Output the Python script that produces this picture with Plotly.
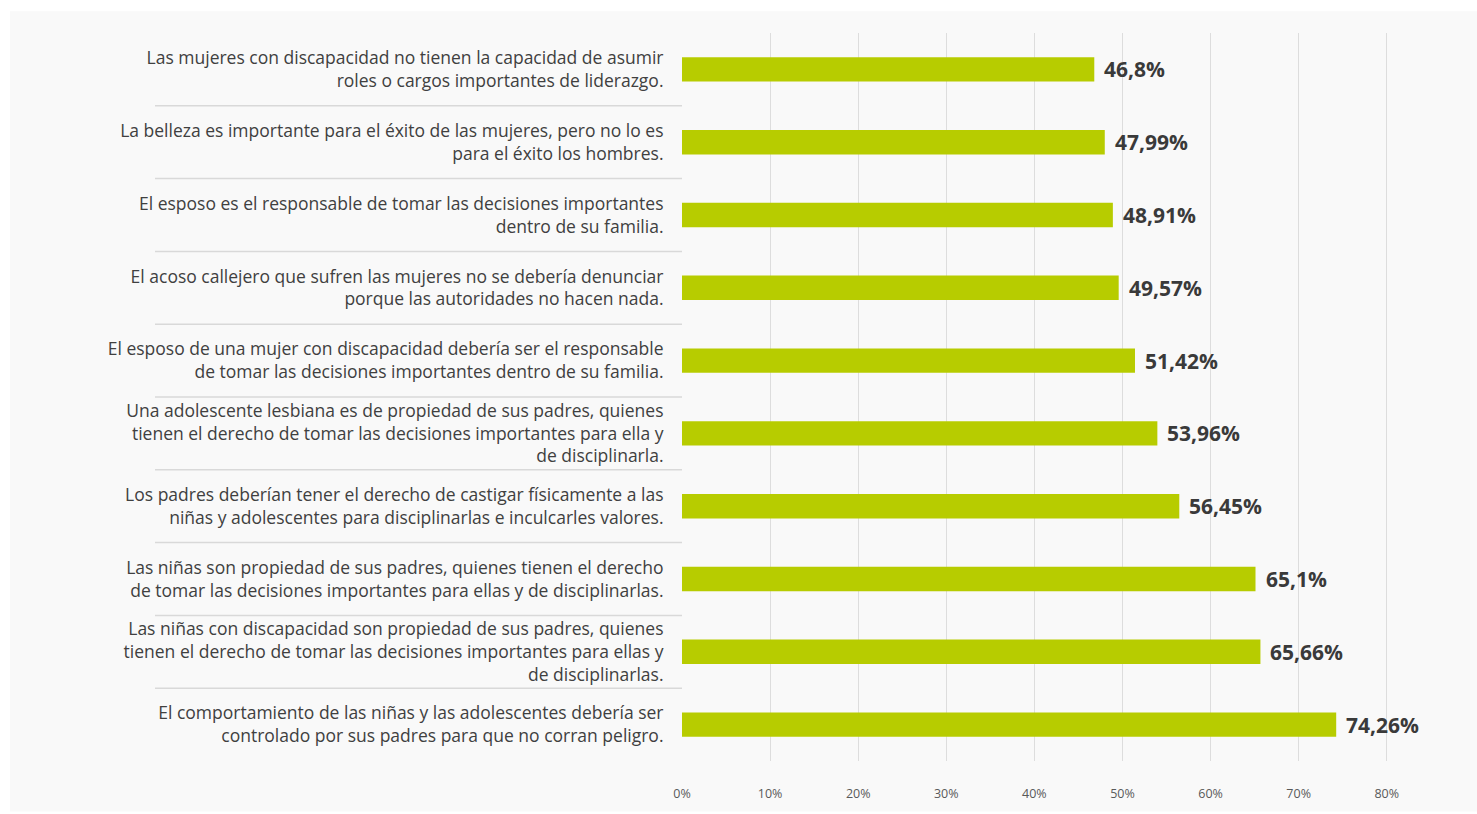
import plotly.graph_objects as go

categories = [
    "Las mujeres con discapacidad no tienen la capacidad de asumir<br>roles o cargos importantes de liderazgo.",
    "La belleza es importante para el éxito de las mujeres, pero no lo es<br>para el éxito los hombres.",
    "El esposo es el responsable de tomar las decisiones importantes<br>dentro de su familia.",
    "El acoso callejero que sufren las mujeres no se debería denunciar<br>porque las autoridades no hacen nada.",
    "El esposo de una mujer con discapacidad debería ser el responsable<br>de tomar las decisiones importantes dentro de su familia.",
    "Una adolescente lesbiana es de propiedad de sus padres, quienes<br>tienen el derecho de tomar las decisiones importantes para ella y<br>de disciplinarla.",
    "Los padres deberían tener el derecho de castigar físicamente a las<br>niñas y adolescentes para disciplinarlas e inculcarles valores.",
    "Las niñas son propiedad de sus padres, quienes tienen el derecho<br>de tomar las decisiones importantes para ellas y de disciplinarlas.",
    "Las niñas con discapacidad son propiedad de sus padres, quienes<br>tienen el derecho de tomar las decisiones importantes para ellas y<br>de disciplinarlas.",
    "El comportamiento de las niñas y las adolescentes debería ser<br>controlado por sus padres para que no corran peligro.",
]
values = [46.8, 47.99, 48.91, 49.57, 51.42, 53.96, 56.45, 65.1, 65.66, 74.26]
labels = ["46,8%", "47,99%", "48,91%", "49,57%", "51,42%", "53,96%", "56,45%", "65,1%", "65,66%", "74,26%"]
x_ticks = [0, 10, 20, 30, 40, 50, 60, 70, 80]
x_ticktext = ["0%", "10%", "20%", "30%", "40%", "50%", "60%", "70%", "80%"]

W, H = 1477, 814
L, R, T, B = 682, 55, 33, 46
pw = W - L - R
ph = H - T - B

def px_x(p):
    return (p - L) / pw

def px_y(p):
    return (H - B - p) / ph

fig = go.Figure()
fig.add_trace(go.Bar(
    y=categories, x=values, orientation="h",
    marker=dict(color="#b7cc00", line=dict(width=0)),
    width=0.335, hoverinfo="skip",
))

annotations = []
for c, v, t in zip(categories, values, labels):
    annotations.append(dict(
        x=v, y=c, xref="x", yref="y", text=t, showarrow=False,
        xanchor="left", yanchor="middle", xshift=8,
        font=dict(family="Open Sans", size=21, color="#3a3a3a", weight="bold"),
    ))

shapes = []
shapes.append(dict(type="rect", xref="paper", yref="paper",
                   x0=px_x(10), x1=px_x(W + 5), y0=px_y(H + 5), y1=px_y(11),
                   fillcolor="#f9f9f9", line=dict(width=0), layer="below"))
for i in range(len(categories) - 1):
    shapes.append(dict(type="line", xref="paper", yref="y",
                       x0=px_x(155), x1=0, y0=i + 0.5, y1=i + 0.5,
                       line=dict(color="#d9d9d9", width=1.5)))

fig.update_layout(
    width=W, height=H,
    margin=dict(l=L, r=R, t=T, b=B),
    paper_bgcolor="#ffffff", plot_bgcolor="#f9f9f9",
    showlegend=False,
    annotations=annotations, shapes=shapes,
    xaxis=dict(range=[0, 84], tickvals=x_ticks, ticktext=x_ticktext,
               showgrid=True, gridcolor="#dddddd", gridwidth=1.3,
               zeroline=False, showline=False,
               ticks="outside", ticklen=21, tickcolor="rgba(0,0,0,0)",
               tickfont=dict(family="Open Sans", size=12.5, color="#595959"),
               fixedrange=True),
    yaxis=dict(autorange="reversed", showgrid=False, zeroline=False, showline=False,
               ticks="outside", ticklen=14, tickcolor="rgba(0,0,0,0)",
               tickfont=dict(family="Open Sans", size=17.5, color="#404040"),
               fixedrange=True),
)

fig.write_html("out.html", config={"displayModeBar": False})
